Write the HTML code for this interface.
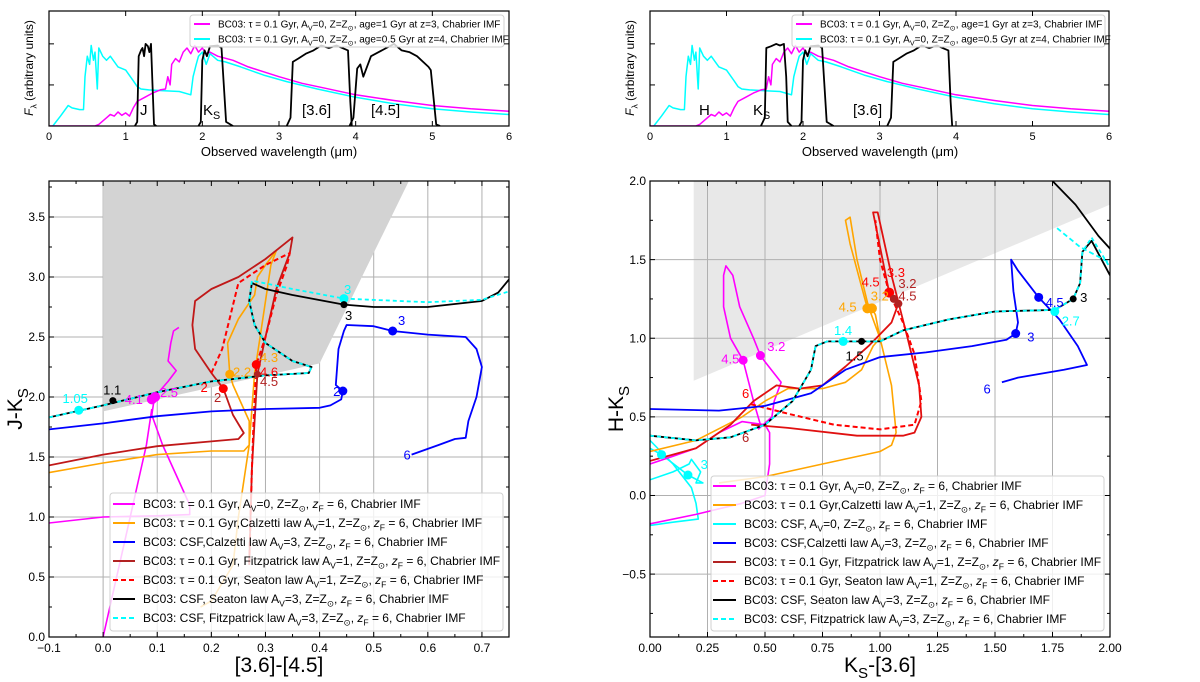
<!DOCTYPE html>
<html><head><meta charset="utf-8"><style>
body{margin:0;background:#fff;}
svg{display:block;font-family:"Liberation Sans","DejaVu Sans",sans-serif;}
</style></head><body>
<svg id="fig" width="1200" height="682" viewBox="0 0 1200 682" xmlns="http://www.w3.org/2000/svg">
<defs>
<clipPath id="cTL"><rect x="49" y="11" width="460" height="115"/></clipPath>
<clipPath id="cTR"><rect x="650" y="11" width="459" height="115"/></clipPath>
<clipPath id="cBL"><rect x="49" y="181" width="460" height="456"/></clipPath>
<clipPath id="cBR"><rect x="650" y="181" width="460" height="456"/></clipPath>
</defs>
<g id="root"></g>
</svg>
<script>
// ---------- data ----------
const specMagL = [0,0.6,0.65,0.75,0.8,0.85,0.9,0.95,1.0,1.05,1.1,1.15,1.25,1.35,1.45,1.52,1.55,1.58,1.6,1.65,1.7,1.75,1.8,1.85,1.9,1.95,2.0,2.05,2.1,2.2,2.4,2.6,2.8,3.0,3.3,3.6,4.0,4.5,5.0,5.5,6.0];
const specMagF = [0,0,0.02,0.1,0.14,0.12,0.17,0.13,0.16,0.12,0.22,0.3,0.35,0.4,0.44,0.45,0.6,0.5,0.75,0.82,0.78,0.9,0.95,0.88,0.98,0.9,0.95,0.88,0.9,0.85,0.8,0.72,0.66,0.6,0.52,0.46,0.38,0.31,0.25,0.21,0.18];
const specCyaL = [0.05,0.15,0.25,0.3,0.4,0.45,0.47,0.5,0.53,0.55,0.58,0.6,0.63,0.65,0.7,0.75,0.8,0.9,1.0,1.1,1.15,1.2,1.3,1.5,1.7,1.85,1.88,1.92,1.95,2.0,2.05,2.1,2.2,2.3,2.5,2.8,3.1,3.5,4.0,4.5,5.0,5.5,6.0];
const specCyaF = [0,0.12,0.25,0.22,0.2,0.2,0.6,0.85,0.75,0.98,0.8,0.9,0.45,0.95,0.85,0.8,0.85,0.72,0.68,0.55,0.48,0.45,0.44,0.43,0.42,0.38,0.6,0.75,0.85,0.9,0.75,0.88,0.8,0.78,0.72,0.62,0.54,0.45,0.35,0.27,0.21,0.17,0.14];
const filtJ_L = [1.12,1.15,1.17,1.2,1.22,1.24,1.26,1.29,1.31,1.33,1.35,1.37,1.4];
const filtJ_T = [0,0.05,0.85,0.92,0.95,0.85,1.0,0.97,0.9,1.0,0.5,0.02,0];
const filtH_L = [1.45,1.5,1.52,1.58,1.65,1.7,1.75,1.78,1.8,1.85];
const filtH_T = [0,0.1,0.95,0.97,1.0,0.98,1.0,0.6,0.05,0];
const filtK_L = [1.95,1.98,2.0,2.03,2.06,2.1,2.2,2.25,2.28,2.31,2.4];
const filtK_T = [0,0.05,0.8,0.92,0.85,0.97,0.98,0.95,0.5,0.05,0];
const filt36_L = [3.1,3.15,3.18,3.25,3.35,3.45,3.55,3.65,3.75,3.85,3.9,3.93,3.95];
const filt36_T = [0,0.1,0.78,0.82,0.88,0.92,0.98,0.95,0.98,0.94,0.92,0.3,0];
const filt45_L = [3.92,3.97,4.02,4.06,4.1,4.2,4.3,4.4,4.5,4.6,4.7,4.8,4.95,4.98,5.02,5.05,5.1];
const filt45_T = [0,0.1,0.7,0.75,0.6,0.85,0.9,0.95,1.0,0.92,0.9,0.85,0.72,0.68,0.3,0.02,0];

// left colour-colour ([3.6]-[4.5], J-Ks)
const shadeL_x = [0,0,0.4,0.565,0.565];
const shadeL_y = [3.8,1.88,2.28,3.8,3.8];
const magL1_x = [-0.1,0.0,0.1,0.16,0.16,0.14,0.11,0.09,0.095,0.12,0.135,0.12,0.125,0.13,0.14];
const magL1_y = [0.95,1.0,1.01,1.02,1.1,1.3,1.6,1.85,2.0,2.13,2.22,2.3,2.45,2.55,2.58];
const magL2_x = [0.0,0.02,0.04,0.06,0.08,0.09];
const magL2_y = [0.0,0.4,0.8,1.2,1.6,1.9];
const oraL_x = [-0.1,0.0,0.1,0.2,0.26,0.27,0.27,0.24,0.234,0.23,0.25,0.28,0.285,0.3,0.32,0.31,0.3,0.29,0.28,0.27,0.26,0.25,0.24,0.2,0.18];
const oraL_y = [1.37,1.45,1.52,1.55,1.55,1.6,1.8,2.1,2.19,2.45,2.65,2.85,3.0,3.1,3.22,3.1,2.8,2.5,2.2,1.6,1.3,1.0,0.6,0.3,0.25];
const firL_x = [-0.1,0.0,0.1,0.2,0.25,0.26,0.24,0.222,0.2,0.17,0.165,0.17,0.2,0.25,0.3,0.35,0.345,0.32,0.3,0.285,0.28,0.275,0.27];
const firL_y = [1.43,1.52,1.59,1.63,1.65,1.7,1.85,2.07,2.2,2.4,2.6,2.8,2.9,3.0,3.15,3.33,3.2,2.9,2.5,2.19,1.8,1.4,0.6];
const redL_x = [0.2,0.22,0.25,0.3,0.345,0.34,0.32,0.3,0.283,0.278,0.275,0.27];
const redL_y = [2.2,2.4,2.95,3.1,3.2,3.1,2.85,2.5,2.27,1.8,1.4,0.6];
const bluL_x = [-0.1,0.0,0.1,0.2,0.3,0.4,0.42,0.44,0.443,0.43,0.435,0.445,0.45,0.5,0.535,0.6,0.67,0.69,0.7,0.69,0.675,0.67,0.65,0.62,0.57];
const bluL_y = [1.73,1.78,1.84,1.88,1.9,1.91,1.93,1.98,2.05,2.1,2.4,2.55,2.6,2.59,2.55,2.52,2.5,2.4,2.25,2.0,1.8,1.66,1.65,1.6,1.52];
const blkL_x = [-0.1,0.0,0.1,0.2,0.3,0.38,0.385,0.35,0.3,0.28,0.27,0.275,0.3,0.35,0.445,0.5,0.6,0.7,0.73,0.75];
const blkL_y = [1.83,1.93,2.04,2.13,2.18,2.2,2.25,2.3,2.45,2.6,2.8,2.95,2.9,2.85,2.77,2.75,2.75,2.8,2.87,2.98];
const cyaL_x = [-0.1,0.0,0.1,0.2,0.3,0.38,0.385,0.35,0.3,0.28,0.27,0.275,0.35,0.445,0.6,0.7,0.75];
const cyaL_y = [1.83,1.93,2.04,2.13,2.18,2.2,2.25,2.3,2.45,2.6,2.8,2.97,2.9,2.82,2.79,2.81,2.88];

// right colour-colour (Ks-[3.6], H-Ks)
const shadeR_x = [0.19,0.19,2.0,2.0];
const shadeR_y = [2.0,0.73,1.85,2.0];
const magR1_x = [0.0,0.2,0.4,0.5,0.52,0.52,0.5,0.45,0.4,0.3,0.2,0.1,0.0];
const magR1_y = [-0.18,-0.12,-0.05,0.0,0.2,0.4,0.45,0.46,0.47,0.4,0.3,0.25,0.2];
const magR2_x = [0.47,0.53,0.54,0.57,0.5,0.48,0.45,0.39,0.36,0.33,0.32,0.32,0.35,0.405,0.45,0.48];
const magR2_y = [0.42,0.5,0.6,0.72,0.85,0.89,1.0,1.2,1.4,1.46,1.4,1.2,1.0,0.86,0.6,0.45];
const oraR_x = [0.0,0.2,0.4,0.5,0.6,0.75,0.85,0.92,0.97,1.0,0.98,0.965,0.945,0.87,0.85,0.87,0.9,0.95,1.0,1.05,1.07,1.05,1.0,0.75,0.5,0.3];
const oraR_y = [0.28,0.35,0.5,0.6,0.68,0.68,0.72,0.8,0.95,1.0,1.15,1.19,1.19,1.6,1.75,1.77,1.5,1.2,1.0,0.7,0.4,0.32,0.28,0.2,0.12,0.08];
const firR_x = [0.0,0.2,0.35,0.45,0.55,0.65,0.75,0.85,0.95,1.05,1.08,1.06,1.04,0.97,0.99,1.05,1.12,1.17,1.18,1.15,1.1,0.9,0.6,0.44];
const firR_y = [0.22,0.3,0.45,0.6,0.7,0.68,0.7,0.82,0.95,1.1,1.22,1.25,1.29,1.8,1.8,1.4,1.0,0.7,0.5,0.4,0.38,0.38,0.43,0.45];
const redR_x = [0.44,0.6,0.8,1.0,1.15,1.18,1.15,1.1,1.04,1.0,0.98];
const redR_y = [0.58,0.52,0.45,0.42,0.45,0.6,0.9,1.1,1.29,1.5,1.75];
const bluR_x = [0.0,0.3,0.5,0.7,0.85,1.0,1.2,1.4,1.55,1.59,1.6,1.58,1.57,1.6,1.69,1.78,1.86,1.9,1.8,1.6,1.53];
const bluR_y = [0.55,0.54,0.57,0.65,0.8,0.88,0.91,0.95,0.99,1.03,1.1,1.3,1.5,1.43,1.26,1.12,0.95,0.83,0.8,0.75,0.72];
const cyaR1_x = [0.0,0.1,0.18,0.2,0.21,0.1,0.0];
const cyaR1_y = [0.35,0.2,0.05,-0.05,-0.15,-0.17,-0.19];
const cyaR2_x = [0.0,0.1,0.17,0.18,0.22,0.2,0.23,0.165,0.05,0.0];
const cyaR2_y = [0.1,0.15,0.2,0.23,0.15,0.08,0.08,0.13,0.26,0.3];
const blkR_x = [0.0,0.2,0.35,0.5,0.62,0.7,0.72,0.77,0.92,1.0,1.1,1.3,1.5,1.76,1.84,1.87,1.88,1.92,2.0];
const blkR_y = [0.38,0.35,0.37,0.45,0.6,0.8,0.95,0.98,0.98,0.98,1.05,1.12,1.17,1.18,1.25,1.35,1.55,1.62,1.4];
const blkR2_x = [1.75,1.85,1.95,2.0];
const blkR2_y = [2.0,1.85,1.65,1.57];
const cyaRd_x = [0.0,0.2,0.35,0.5,0.62,0.7,0.72,0.77,0.92,1.0,1.1,1.3,1.5,1.76,1.84,1.87,1.88,1.92,2.0];
const cyaRd_y = [0.38,0.35,0.37,0.45,0.6,0.8,0.95,0.98,0.98,0.98,1.05,1.12,1.17,1.18,1.25,1.35,1.55,1.64,1.45];
const cyaRd2_x = [1.77,1.87,2.0];
const cyaRd2_y = [1.7,1.58,1.48];

const ptsL = [[-0.045,1.89,'#00ffff',4.5],[0.018,1.97,'#000',3.5],[0.09,1.98,'#ff00ff',5],[0.096,2.0,'#ff00ff',5],[0.234,2.19,'#ffa500',4.5],[0.222,2.07,'#ff0000',4.5],[0.283,2.27,'#ff0000',4.5],[0.285,2.19,'#b22222',3.5],[0.443,2.05,'#0000ff',4.5],[0.535,2.55,'#0000ff',4.5],[0.445,2.82,'#00ffff',4.5],[0.445,2.77,'#000',3.5]];
const labL = [['1.05',-0.075,1.95,'#00ffff'],['1.1',0.0,2.02,'#000'],['4.1',0.04,1.94,'#ff00ff'],['2.5',0.105,2.0,'#ff00ff'],['2',0.18,2.04,'#ff0000'],['2',0.205,1.96,'#b22222'],['2.2',0.24,2.17,'#ffa500'],['4.3',0.29,2.29,'#ffa500'],['4.6',0.29,2.17,'#ff0000'],['4.5',0.29,2.09,'#b22222'],['2',0.425,2.01,'#0000ff'],['3',0.445,2.86,'#00ffff'],['3',0.447,2.64,'#000'],['3',0.545,2.6,'#0000ff'],['6',0.555,1.48,'#0000ff']];
const ptsR = [[0.405,0.86,'#ff00ff',4.5],[0.48,0.89,'#ff00ff',4.5],[0.945,1.19,'#ffa500',5],[0.965,1.19,'#ffa500',5],[1.04,1.29,'#ff0000',5],[1.06,1.25,'#b22222',4],[1.08,1.22,'#b22222',4],[0.84,0.98,'#00ffff',4.5],[0.92,0.98,'#000',3.5],[1.59,1.03,'#0000ff',4.5],[1.69,1.26,'#0000ff',4.5],[1.76,1.17,'#00ffff',4.5],[1.84,1.25,'#000',3.5],[0.05,0.26,'#00ffff',4.5],[0.165,0.13,'#00ffff',4.5]];
const labR = [['4.5',0.31,0.84,'#ff00ff'],['3.2',0.51,0.92,'#ff00ff'],['4.5',0.82,1.17,'#ffa500'],['3.2',0.96,1.24,'#ffa500'],['4.5',0.92,1.33,'#ff0000'],['3.3',1.03,1.39,'#ff0000'],['3.2',1.08,1.32,'#b22222'],['4.5',1.08,1.24,'#b22222'],['1.4',0.8,1.02,'#00ffff'],['1.5',0.85,0.86,'#000'],['3',1.64,0.98,'#0000ff'],['4.5',1.72,1.2,'#0000ff'],['2.7',1.79,1.08,'#00ffff'],['3',1.87,1.23,'#000'],['6',1.45,0.65,'#0000ff'],['6',0.4,0.62,'#ff0000'],['6',0.4,0.34,'#b22222'],['3',0.22,0.17,'#00ffff']];

// ---------- helpers ----------
const NS='http://www.w3.org/2000/svg';
const root=document.getElementById('root');
function mk(tag,attrs,parent){const e=document.createElementNS(NS,tag);for(const k in attrs)e.setAttribute(k,attrs[k]);(parent||root).appendChild(e);return e;}
function sx(p,v){return p.x0+(v-p.xmin)/(p.xmax-p.xmin)*(p.x1-p.x0);}
function sy(p,v){return p.y0-(v-p.ymin)/(p.ymax-p.ymin)*(p.y0-p.y1);}
function pathD(p,xs,ys){let d='';for(let i=0;i<xs.length;i++)d+=(i?'L':'M')+sx(p,xs[i]).toFixed(1)+','+sy(p,ys[i]).toFixed(1);return d;}
function line(p,xs,ys,col,w,dash,clip,name){const e=mk('path',{d:pathD(p,xs,ys),fill:'none',stroke:col,'stroke-width':w,'stroke-linejoin':'round','clip-path':'url(#'+clip+')'});if(dash)e.setAttribute('stroke-dasharray',dash);


return e;}
function fmt(s,size){const d=(size*0.28).toFixed(1);const fs=(size*0.72).toFixed(1);
  return s.replace(/_\{([^}]*)\}/g,'<tspan font-size="'+fs+'" dy="'+d+'">$1</tspan><tspan dy="-'+d+'">\u200B</tspan>');}
function txt(x,y,s,size,col,anchor,name){const e=mk('text',{x:x,y:y,'font-size':size,fill:col,'text-anchor':anchor||'start'});e.innerHTML=fmt(s,size);


return e;}

function axes(p,o){
  const g=mk('g',{});
  
  
  if(o.grid){
    o.xt.forEach(v=>{if(v>p.xmin+1e-9&&v<p.xmax-1e-9)mk('line',{x1:sx(p,v),x2:sx(p,v),y1:p.y0,y2:p.y1,stroke:'#b0b0b0','stroke-width':1},g);});
    o.yt.forEach(v=>{if(v>p.ymin+1e-9&&v<p.ymax-1e-9)mk('line',{x1:p.x0,x2:p.x1,y1:sy(p,v),y2:sy(p,v),stroke:'#b0b0b0','stroke-width':1},g);});
  }
  return g;
}
function frame(p,o){
  const g=mk('g',{});
  
  
  const t=5;
  (o.xm||[]).forEach(v=>{const X=sx(p,v);mk('line',{x1:X,x2:X,y1:p.y0,y2:p.y0-3,stroke:'#000'},g);mk('line',{x1:X,x2:X,y1:p.y1,y2:p.y1+3,stroke:'#000'},g);});
  (o.ym||[]).forEach(v=>{const Y=sy(p,v);mk('line',{x1:p.x0,x2:p.x0+3,y1:Y,y2:Y,stroke:'#000'},g);mk('line',{x1:p.x1,x2:p.x1-3,y1:Y,y2:Y,stroke:'#000'},g);});
  o.xt.forEach((v,i)=>{const X=sx(p,v);mk('line',{x1:X,x2:X,y1:p.y0,y2:p.y0-t,stroke:'#000'},g);mk('line',{x1:X,x2:X,y1:p.y1,y2:p.y1+t,stroke:'#000'},g);
    const tl=mk('text',{x:X,y:p.y0+o.fs+3,'font-size':o.fs,'text-anchor':'middle',fill:'#000'},g);tl.textContent=o.xl[i];});
  o.yt.forEach((v,i)=>{const Y=sy(p,v);mk('line',{x1:p.x0,x2:p.x0+t,y1:Y,y2:Y,stroke:'#000'},g);mk('line',{x1:p.x1,x2:p.x1-t,y1:Y,y2:Y,stroke:'#000'},g);
    if(o.yl){const tl=mk('text',{x:p.x0-4,y:Y+o.fs*0.35,'font-size':o.fs,'text-anchor':'end',fill:'#000'},g);tl.textContent=o.yl[i];}});
  mk('rect',{x:p.x0,y:p.y1,width:p.x1-p.x0,height:p.y0-p.y1,fill:'none',stroke:'#000','stroke-width':1.2},g);
}
function legend(x,y,w,h,y0,dy,hx,tx,fs,items,name){
  const g=mk('g',{});
  
  
  mk('rect',{x:x,y:y,width:w,height:h,rx:3,fill:'#fff','fill-opacity':0.8,stroke:'#d0d0d0'},g);
  items.forEach((it,i)=>{const Y=y0+i*dy;
    const l=mk('line',{x1:hx,x2:hx+(tx-hx-8),y1:Y,y2:Y,stroke:it[0],'stroke-width':2},g);if(it[1])l.setAttribute('stroke-dasharray',it[1]);
    const t=mk('text',{x:tx,y:Y+fs*0.35,'font-size':fs,fill:'#000'},g);t.innerHTML=fmt(it[2],fs);
    
    
  });
}

// ---------- top panels ----------
const pTL={x0:49,x1:509,y0:126,y1:11,xmin:0,xmax:6,ymin:0,ymax:1.4};
const pTR={x0:650,x1:1109,y0:126,y1:11,xmin:0,xmax:6,ymin:0,ymax:1.4};
[[pTL,'cTL','left'],[pTR,'cTR','right']].forEach(([p,c,side])=>{
  line(p,specCyaL,specCyaF,'#00ffff',1.5,null,c,'spectrum-z4-'+side);
  line(p,specMagL,specMagF,'#ff00ff',1.5,null,c,'spectrum-z3-'+side);
});
line(pTL,filtJ_L,filtJ_T,'#000',1.8,null,'cTL','filter-j');
line(pTL,filtK_L,filtK_T,'#000',1.8,null,'cTL','filter-ks-left');
line(pTL,filt36_L,filt36_T,'#000',1.8,null,'cTL','filter-36-left');
line(pTL,filt45_L,filt45_T,'#000',1.8,null,'cTL','filter-45');
line(pTR,filtH_L,filtH_T,'#000',1.8,null,'cTR','filter-h');
line(pTR,filtK_L,filtK_T,'#000',1.8,null,'cTR','filter-ks-right');
line(pTR,filt36_L,filt36_T,'#000',1.8,null,'cTR','filter-36-right');
txt(140,115,'J',15,'#000','start','filter-label-j');
txt(203,115,'K_{S}',15,'#000','start','filter-label-ks');
txt(302,115,'[3.6]',15,'#000','start','filter-label-36');
txt(371,115,'[4.5]',15,'#000','start','filter-label-45');
txt(699,115,'H',15,'#000','start','filter-label-h');
txt(753,115,'K_{S}',15,'#000','start','filter-label-ks-right');
txt(853,115,'[3.6]',15,'#000','start','filter-label-36-right');
const topItems=[['#ff00ff',null,'BC03: τ = 0.1 Gyr, A_{V}=0, Z=Z_{⊙}, age=1 Gyr at z=3, Chabrier IMF'],['#00ffff',null,'BC03: τ = 0.1 Gyr, A_{V}=0, Z=Z_{⊙}, age=0.5 Gyr at z=4, Chabrier IMF']];
legend(190,15,314,32,24,15,194,218,10,topItems,'top-left-legend');
legend(792,15,313,32,24,15,796,820,10,topItems,'top-right-legend');
frame(pTL,{name:'top-left-axes',xt:[0,1,2,3,4,5,6],xl:['0','1','2','3','4','5','6'],yt:[0.5,1.0],fs:11});
frame(pTR,{name:'top-right-axes',xt:[0,1,2,3,4,5,6],xl:['0','1','2','3','4','5','6'],yt:[0.5,1.0],fs:11});
txt(279,156,'Observed wavelength (μm)',13,'#000','middle','top-left-x-title');
txt(880,156,'Observed wavelength (μm)',13,'#000','middle','top-right-x-title');
let yl1=txt(0,0,'<tspan font-style="italic">F</tspan>_{λ} (arbitrary units)',12,'#000','middle','top-left-y-title');yl1.setAttribute('transform','translate(33,68) rotate(-90)');
let yl2=txt(0,0,'<tspan font-style="italic">F</tspan>_{λ} (arbitrary units)',12,'#000','middle','top-right-y-title');yl2.setAttribute('transform','translate(634,68) rotate(-90)');

// ---------- bottom left ----------
const pBL={x0:49,x1:509,y0:637,y1:181,xmin:-0.1,xmax:0.75,ymin:0,ymax:3.8};
const xtL=[-0.1,0,0.1,0.2,0.3,0.4,0.5,0.6,0.7];
const ytL=[0,0.5,1,1.5,2,2.5,3,3.5];
axes(pBL,{name:'left-grid',grid:true,xt:xtL,yt:ytL});
let sh=mk('polygon',{points:shadeL_x.map((v,i)=>sx(pBL,v)+','+sy(pBL,shadeL_y[i])).join(' '),fill:'#d3d3d3','clip-path':'url(#cBL)'});


line(pBL,magL1_x,magL1_y,'#ff00ff',1.6,null,'cBL','track-magenta-a');
line(pBL,magL2_x,magL2_y,'#ff00ff',1.6,null,'cBL','track-magenta-b');
line(pBL,oraL_x,oraL_y,'#ffa500',1.6,null,'cBL','track-orange');
line(pBL,firL_x,firL_y,'#c01818',1.8,null,'cBL','track-fitzpatrick');
line(pBL,redL_x,redL_y,'#ff0000',2,'5,3','cBL','track-seaton');
line(pBL,bluL_x,bluL_y,'#0000ff',1.8,null,'cBL','track-blue');
line(pBL,blkL_x,blkL_y,'#000',1.8,null,'cBL','track-black');
line(pBL,cyaL_x,cyaL_y,'#00ffff',1.8,'4,3','cBL','track-cyan-dashed');
ptsL.forEach(q=>{const c=mk('circle',{cx:sx(pBL,q[0]),cy:sy(pBL,q[1]),r:q[3],fill:q[2]});

});
labL.forEach(q=>{txt(sx(pBL,q[1]),sy(pBL,q[2]),q[0],13,q[3],'start','age-label');});
legend(110,493,393,138,504,19,113,143,12,[
 ['#ff00ff',null,'BC03: τ = 0.1 Gyr, A_{V}=0, Z=Z_{⊙}, <tspan font-style="italic">z</tspan>_{F} = 6, Chabrier IMF'],
 ['#ffa500',null,'BC03: τ = 0.1 Gyr,Calzetti law  A_{V}=1, Z=Z_{⊙}, <tspan font-style="italic">z</tspan>_{F} = 6, Chabrier IMF'],
 ['#0000ff',null,'BC03: CSF,Calzetti law A_{V}=3, Z=Z_{⊙}, <tspan font-style="italic">z</tspan>_{F} = 6, Chabrier IMF'],
 ['#b22222',null,'BC03: τ = 0.1 Gyr, Fitzpatrick law A_{V}=1, Z=Z_{⊙}, <tspan font-style="italic">z</tspan>_{F} = 6, Chabrier IMF'],
 ['#ff0000','5,3','BC03: τ = 0.1 Gyr, Seaton law A_{V}=1, Z=Z_{⊙}, <tspan font-style="italic">z</tspan>_{F} = 6, Chabrier IMF'],
 ['#000',null,'BC03: CSF, Seaton law A_{V}=3, Z=Z_{⊙}, <tspan font-style="italic">z</tspan>_{F} = 6, Chabrier IMF'],
 ['#00ffff','5,3','BC03: CSF, Fitzpatrick law A_{V}=3, Z=Z_{⊙}, <tspan font-style="italic">z</tspan>_{F} = 6, Chabrier IMF']],'left-legend');
frame(pBL,{name:'left-axes',xt:xtL,xl:['−0.1','0.0','0.1','0.2','0.3','0.4','0.5','0.6','0.7'],yt:ytL,yl:['0.0','0.5','1.0','1.5','2.0','2.5','3.0','3.5'],xm:[-0.05,0.05,0.15,0.25,0.35,0.45,0.55,0.65,0.75],ym:[0.25,0.75,1.25,1.75,2.25,2.75,3.25,3.75],fs:12});
txt(279,672,'[3.6]-[4.5]',21,'#000','middle','left-x-title');
let yl3=txt(0,0,'J-K_{S}',21,'#000','middle','left-y-title');yl3.setAttribute('transform','translate(22,409) rotate(-90)');

// ---------- bottom right ----------
const pBR={x0:650,x1:1110,y0:637,y1:181,xmin:0,xmax:2,ymin:-0.9,ymax:2.0};
const xtR=[0,0.25,0.5,0.75,1,1.25,1.5,1.75,2];
const ytR=[-0.5,0,0.5,1,1.5,2];
let sh2=mk('polygon',{points:shadeR_x.map((v,i)=>sx(pBR,v)+','+sy(pBR,shadeR_y[i])).join(' '),fill:'#e8e8e8','clip-path':'url(#cBR)'});


axes(pBR,{name:'right-grid',grid:true,xt:xtR,yt:ytR});
line(pBR,cyaR1_x,cyaR1_y,'#00ffff',1.6,null,'cBR','track-cyan-a');
line(pBR,cyaR2_x,cyaR2_y,'#00ffff',1.6,null,'cBR','track-cyan-b');
line(pBR,magR1_x,magR1_y,'#ff00ff',1.6,null,'cBR','track-magenta-a');
line(pBR,magR2_x,magR2_y,'#ff00ff',1.6,null,'cBR','track-magenta-b');
line(pBR,oraR_x,oraR_y,'#ffa500',1.6,null,'cBR','track-orange');
line(pBR,firR_x,firR_y,'#e01010',1.8,null,'cBR','track-fitzpatrick');
line(pBR,redR_x,redR_y,'#ff0000',2,'5,3','cBR','track-seaton');
line(pBR,bluR_x,bluR_y,'#0000ff',1.8,null,'cBR','track-blue');
line(pBR,blkR_x,blkR_y,'#000',1.8,null,'cBR','track-black');
line(pBR,blkR2_x,blkR2_y,'#000',1.8,null,'cBR','track-black-b');
line(pBR,cyaRd_x,cyaRd_y,'#00ffff',1.8,'4,3','cBR','track-cyan-dashed');
line(pBR,cyaRd2_x,cyaRd2_y,'#00ffff',1.8,'5,3','cBR','track-cyan-dashed-b');
ptsR.forEach(q=>{const c=mk('circle',{cx:sx(pBR,q[0]),cy:sy(pBR,q[1]),r:q[3],fill:q[2]});

});
labR.forEach(q=>{txt(sx(pBR,q[1]),sy(pBR,q[2]),q[0],13,q[3],'start','age-label');});
legend(711,476,393,155,486,19,713,744,12,[
 ['#ff00ff',null,'BC03: τ = 0.1 Gyr, A_{V}=0, Z=Z_{⊙}, <tspan font-style="italic">z</tspan>_{F} = 6, Chabrier IMF'],
 ['#ffa500',null,'BC03: τ = 0.1 Gyr,Calzetti law  A_{V}=1, Z=Z_{⊙}, <tspan font-style="italic">z</tspan>_{F} = 6, Chabrier IMF'],
 ['#00ffff',null,'BC03: CSF, A_{V}=0, Z=Z_{⊙}, <tspan font-style="italic">z</tspan>_{F} = 6, Chabrier IMF'],
 ['#0000ff',null,'BC03: CSF,Calzetti law  A_{V}=3, Z=Z_{⊙}, <tspan font-style="italic">z</tspan>_{F} = 6, Chabrier IMF'],
 ['#b22222',null,'BC03: τ = 0.1 Gyr, Fitzpatrick law A_{V}=1, Z=Z_{⊙}, <tspan font-style="italic">z</tspan>_{F} = 6, Chabrier IMF'],
 ['#ff0000','5,3','BC03: τ = 0.1 Gyr, Seaton law A_{V}=1, Z=Z_{⊙}, <tspan font-style="italic">z</tspan>_{F} = 6, Chabrier IMF'],
 ['#000',null,'BC03: CSF, Seaton law A_{V}=3, Z=Z_{⊙}, <tspan font-style="italic">z</tspan>_{F} = 6, Chabrier IMF'],
 ['#00ffff','5,3','BC03: CSF, Fitzpatrick law A_{V}=3, Z=Z_{⊙}, <tspan font-style="italic">z</tspan>_{F} = 6, Chabrier IMF']],'right-legend');
frame(pBR,{name:'right-axes',xt:xtR,xl:['0.00','0.25','0.50','0.75','1.00','1.25','1.50','1.75','2.00'],yt:ytR,yl:['−0.5','0.0','0.5','1.0','1.5','2.0'],xm:[0.125,0.375,0.625,0.875,1.125,1.375,1.625,1.875],ym:[-0.75,-0.25,0.25,0.75,1.25,1.75],fs:12});
txt(880,672,'K_{S}-[3.6]',21,'#000','middle','right-x-title');
let yl4=txt(0,0,'H-K_{S}',21,'#000','middle','right-y-title');yl4.setAttribute('transform','translate(623,409) rotate(-90)');
</script>
</body></html>
